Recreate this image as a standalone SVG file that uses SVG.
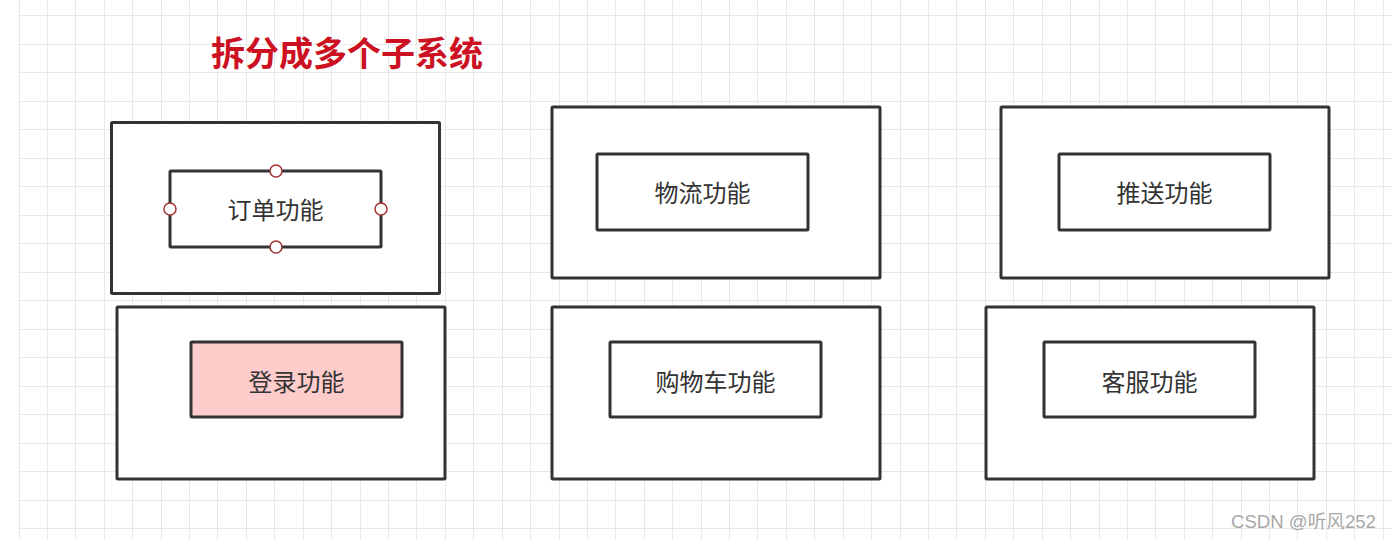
<svg xmlns="http://www.w3.org/2000/svg" width="1392" height="540" viewBox="0 0 1392 540">
<style>
.grid{stroke:#e8e8e8;stroke-width:1;fill:none}
.outer{fill:#ffffff;stroke:#333333;stroke-width:3}
.inner{fill:#ffffff;stroke:#333333;stroke-width:3}
.pink{fill:#ffcccc}
.lbl{font-family:"Noto Sans CJK SC","Noto Sans",sans-serif;font-size:24px;fill:#333333;text-anchor:middle;dominant-baseline:central}
.title{font-family:"Noto Sans CJK SC","Noto Sans",sans-serif;font-size:34px;font-weight:bold;fill:#cc1122}
.wm{font-family:"Liberation Sans","Noto Sans CJK SC",sans-serif;font-size:18.6px;fill:#a8a8a8}
.pt{fill:#ffffff;stroke:#a33333;stroke-width:1.5}
</style>
<rect width="1392" height="540" fill="#ffffff"/>
<path class="grid" d="M19.5 0V540M47.5 0V540M75.5 0V540M104.5 0V540M132.5 0V540M161.5 0V540M189.5 0V540M217.5 0V540M246.5 0V540M274.5 0V540M303.5 0V540M331.5 0V540M360.5 0V540M388.5 0V540M416.5 0V540M445.5 0V540M473.5 0V540M502.5 0V540M530.5 0V540M559.5 0V540M587.5 0V540M615.5 0V540M644.5 0V540M672.5 0V540M701.5 0V540M729.5 0V540M757.5 0V540M786.5 0V540M814.5 0V540M843.5 0V540M871.5 0V540M900.5 0V540M928.5 0V540M956.5 0V540M985.5 0V540M1013.5 0V540M1042.5 0V540M1070.5 0V540M1099.5 0V540M1127.5 0V540M1155.5 0V540M1184.5 0V540M1212.5 0V540M1241.5 0V540M1269.5 0V540M1297.5 0V540M1326.5 0V540M1354.5 0V540M1383.5 0V540M18 15.5H1392M18 44.5H1392M18 72.5H1392M18 101.5H1392M18 129.5H1392M18 158.5H1392M18 186.5H1392M18 215.5H1392M18 243.5H1392M18 272.5H1392M18 300.5H1392M18 329.5H1392M18 357.5H1392M18 386.5H1392M18 414.5H1392M18 443.5H1392M18 471.5H1392M18 500.5H1392M18 528.5H1392"/>
<text class="title" x="211" y="66">拆分成多个子系统</text>
<g id="sys-order">
<rect class="outer" x="111.5" y="122.5" width="328" height="171" rx="1"/>
<g id="node-order">
<rect class="inner" x="170" y="171" width="211" height="76" rx="1"/>
<text class="lbl" x="275.5" y="208">订单功能</text>
<circle class="pt" cx="276" cy="171" r="6"/>
<circle class="pt" cx="276" cy="247" r="6"/>
<circle class="pt" cx="170" cy="209" r="6"/>
<circle class="pt" cx="381" cy="209" r="6"/>
</g>
</g>
<g id="sys-logistics">
<rect class="outer" x="552" y="107" width="328" height="171" rx="1"/>
<g id="node-logistics">
<rect class="inner" x="597" y="154" width="211" height="76" rx="1"/>
<text class="lbl" x="702.5" y="191">物流功能</text>
</g>
</g>
<g id="sys-push">
<rect class="outer" x="1001" y="107" width="328" height="171" rx="1"/>
<g id="node-push">
<rect class="inner" x="1059" y="154" width="211" height="76" rx="1"/>
<text class="lbl" x="1164.5" y="191">推送功能</text>
</g>
</g>
<g id="sys-login">
<rect class="outer" x="117" y="307" width="328" height="172" rx="1"/>
<g id="node-login">
<rect class="inner pink" x="191" y="342" width="211" height="75" rx="1"/>
<text class="lbl" x="296.5" y="380">登录功能</text>
</g>
</g>
<g id="sys-cart">
<rect class="outer" x="552" y="307" width="328" height="172" rx="1"/>
<g id="node-cart">
<rect class="inner" x="610" y="342" width="211" height="75" rx="1"/>
<text class="lbl" x="715.5" y="380">购物车功能</text>
</g>
</g>
<g id="sys-service">
<rect class="outer" x="986" y="307" width="328" height="172" rx="1"/>
<g id="node-service">
<rect class="inner" x="1044" y="342" width="211" height="75" rx="1"/>
<text class="lbl" x="1149.5" y="380">客服功能</text>
</g>
</g>
<g id="connectors"></g>
<text class="wm" x="1231" y="528">CSDN @听风252</text>
</svg>
